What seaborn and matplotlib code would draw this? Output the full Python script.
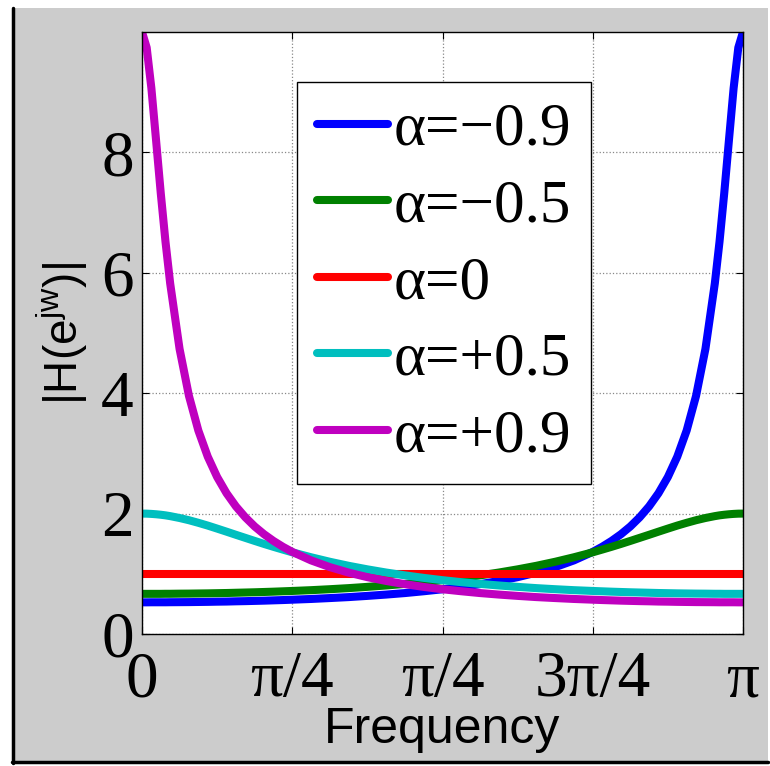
import numpy as np
import pandas as pd
import seaborn as sns
import matplotlib.pyplot as plt
from matplotlib.patches import Rectangle

# Frequency samples, in units of pi/64
freq_k = [0, 0.5, 1, 1.5, 2, 2.5, 3, 4, 5, 6, 7, 8, 9, 10, 11, 12, 13, 14, 15, 16,
          18, 20, 22, 24, 26, 28, 30, 32, 34, 36, 38, 40, 42, 44, 46,
          48, 49, 50, 51, 52, 53, 54, 55, 56, 57, 58, 59, 60, 61, 61.5, 62, 62.5, 63, 63.5, 64]

# |H(e^jw)|
mag_p09 = [10.0, 9.740, 9.065, 8.198, 7.319, 6.518, 5.824, 4.736, 3.955, 3.380,
           2.946, 2.608, 2.339, 2.120, 1.939, 1.786, 1.657, 1.546, 1.449, 1.364,
           1.223, 1.111, 1.020, 0.944, 0.881, 0.828, 0.782, 0.743, 0.710, 0.680,
           0.655, 0.633, 0.613, 0.597, 0.582,
           0.570, 0.564, 0.559, 0.554, 0.550, 0.546, 0.543, 0.539, 0.537, 0.534,
           0.532, 0.530, 0.529, 0.528, 0.527, 0.527, 0.527, 0.527, 0.526, 0.526]
mag_m09 = [0.526, 0.526, 0.527, 0.527, 0.527, 0.527, 0.528, 0.529, 0.530, 0.532,
           0.534, 0.537, 0.539, 0.543, 0.546, 0.550, 0.554, 0.559, 0.564, 0.570,
           0.582, 0.597, 0.613, 0.633, 0.655, 0.680, 0.710, 0.743, 0.782, 0.828,
           0.881, 0.944, 1.020, 1.111, 1.223,
           1.364, 1.449, 1.546, 1.657, 1.786, 1.939, 2.120, 2.339, 2.608, 2.946,
           3.380, 3.955, 4.736, 5.824, 6.518, 7.319, 8.198, 9.065, 9.740, 10.0]
mag_p05 = [2.0, 1.999, 1.995, 1.989, 1.981, 1.971, 1.958, 1.927, 1.890, 1.847,
           1.801, 1.751, 1.700, 1.648, 1.597, 1.546, 1.496, 1.448, 1.402, 1.357,
           1.275, 1.200, 1.133, 1.074, 1.021, 0.974, 0.932, 0.894, 0.861, 0.832,
           0.806, 0.783, 0.762, 0.744, 0.728,
           0.715, 0.709, 0.703, 0.698, 0.693, 0.689, 0.685, 0.681, 0.678, 0.675,
           0.673, 0.671, 0.670, 0.668, 0.668, 0.667, 0.667, 0.667, 0.667, 0.667]
mag_m05 = [0.667, 0.667, 0.667, 0.667, 0.667, 0.668, 0.668, 0.670, 0.671, 0.673,
           0.675, 0.678, 0.681, 0.685, 0.689, 0.693, 0.698, 0.703, 0.709, 0.715,
           0.728, 0.744, 0.762, 0.783, 0.806, 0.832, 0.861, 0.894, 0.932, 0.974,
           1.021, 1.074, 1.133, 1.200, 1.275,
           1.357, 1.402, 1.448, 1.496, 1.546, 1.597, 1.648, 1.700, 1.751, 1.801,
           1.847, 1.890, 1.927, 1.958, 1.971, 1.981, 1.989, 1.995, 1.999, 2.0]
mag_0 = [1.0] * len(freq_k)

labels = ['\u03b1=\u22120.9', '\u03b1=\u22120.5', '\u03b1=0', '\u03b1=+0.5', '\u03b1=+0.9']
colors = ['#0000ff', '#008000', '#ff0000', '#00bfbf', '#bf00bf']
tick_pos = [0, 0.25, 0.5, 0.75, 1.0]
tick_labels = ['0', '\u03c0/4', '\u03c0/4', '3\u03c0/4', '\u03c0']

freq = np.array(freq_k) / 64.0
df = pd.concat([pd.DataFrame({'freq': freq, 'mag': m, 'alpha': lab})
                for m, lab in zip([mag_m09, mag_m05, mag_0, mag_p05, mag_p09], labels)])

sns.set_style('white')
plt.rcParams['font.family'] = ['Liberation Serif', 'DejaVu Serif']
plt.rcParams['mathtext.default'] = 'regular'
plt.rcParams['text.color'] = 'black'

fig = plt.figure(figsize=(7.7, 7.66), dpi=100, facecolor='white')
# grey MATLAB-like figure panel with a dark edge left/bottom
fig.patches.append(Rectangle((12 / 770, 3 / 766), 756 / 770, 755 / 766, transform=fig.transFigure,
                             facecolor='#cccccc', edgecolor='none', zorder=-10))
fig.lines.append(plt.Line2D([13 / 770, 13 / 770], [3 / 766, 758 / 766], transform=fig.transFigure,
                            color='black', lw=2.5))
fig.lines.append(plt.Line2D([12 / 770, 768 / 770], [4 / 766, 4 / 766], transform=fig.transFigure,
                            color='black', lw=2.5))

ax = fig.add_axes([142 / 770, 1 - 634 / 766, 601 / 770, 602 / 766])
ax.set_facecolor('white')
sns.lineplot(data=df, x='freq', y='mag', hue='alpha', hue_order=labels, palette=colors,
             lw=5.8, ax=ax, sort=False, legend=True)

ax.set_xlim(0, 1)
ax.set_ylim(0, 10)
ax.set_xticks(tick_pos)
ax.set_xticklabels(tick_labels)
ax.set_yticks([0, 2, 4, 6, 8])
ax.tick_params(direction='in', length=5, width=0.8, labelsize=47, top=True, right=True,
               bottom=True, left=True, colors='black', pad=6)
ax.tick_params(axis='x', pad=12)
ax.grid(True, linestyle=':', color='#888888', lw=0.9)
for s in ax.spines.values():
    s.set_color('black')
    s.set_linewidth(1.0)

sans = ['Liberation Sans', 'DejaVu Sans']
ax.set_xlabel('Frequency', family=sans, fontsize=36, color='black', labelpad=-2)
ax.set_ylabel('|H(e$^{jw}$)|', family=sans, fontsize=33, color='black', labelpad=8)

handles, _ = ax.get_legend_handles_labels()
leg = ax.legend(handles, labels, loc='upper left', bbox_to_anchor=(0.258, 0.917),
                fontsize=44, frameon=True, fancybox=False, edgecolor='black',
                framealpha=1, handlelength=1.15, handletextpad=0.1, labelspacing=0.34,
                borderpad=0.33, borderaxespad=0)
leg.get_frame().set_linewidth(1.0)
for ln in leg.get_lines():
    ln.set_linewidth(5.8)
for t in leg.get_texts():
    t.set_color('black')

fig.savefig('out.png', dpi=100, facecolor=fig.get_facecolor())
